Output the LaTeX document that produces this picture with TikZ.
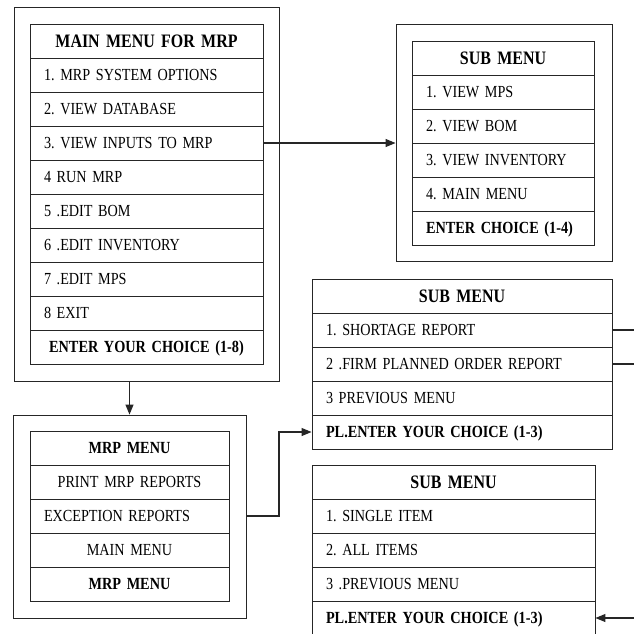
\documentclass[tikz,border=0pt]{standalone}
\usepackage{fontspec}
\setmainfont{Liberation Serif}[FakeStretch=0.84]
\usetikzlibrary{arrows.meta}
\newcommand{\rowfont}{\fontsize{16.9}{18}\selectfont\frenchspacing\spaceskip=0.2em\relax}
\newcommand{\boldrowfont}{\fontsize{17}{18}\selectfont\bfseries\frenchspacing\spaceskip=0.2em\relax}
\newcommand{\hdrfont}{\fontsize{19}{20}\selectfont\bfseries\frenchspacing\spaceskip=0.2em\relax}
\begin{document}
\begin{tikzpicture}[x=1pt,y=-1pt,
 cell/.style={draw=black!85, line width=0.9pt, minimum height=34pt, inner xsep=14pt, inner ysep=0pt,
   text height=11.6pt, text depth=0pt, font=\rowfont},
 bcell/.style={cell, font=\boldrowfont},
 hcell/.style={cell, font=\hdrfont, align=center, text height=12.2pt},
 outerbox/.style={draw=black!85, line width=0.9pt, inner sep=0pt},
 conn/.style={line width=1.1pt, draw=black!85},
 tip/.style={-{Triangle[length=10pt,width=8pt]}},
 mainw/.style={text width=205pt},
 subaw/.style={text width=154pt},
 subbw/.style={text width=272pt},
 subcw/.style={text width=255pt},
 mrpw/.style={text width=171pt}
]
\useasboundingbox (0,0) rectangle (634,633);
\clip (0,0) rectangle (634,633);

% Main menu
\node[hcell, mainw] (m0) at (146.5,41) {\mbox{MAIN MENU FOR MRP}};
\node[cell, mainw, align=left] (m1) at (146.5,75) {\mbox{1. MRP SYSTEM OPTIONS}};
\node[cell, mainw, align=left] (m2) at (146.5,109) {\mbox{2. VIEW DATABASE}};
\node[cell, mainw, align=left] (m3) at (146.5,143) {\mbox{3. VIEW INPUTS TO MRP}};
\node[cell, mainw, align=left] (m4) at (146.5,177) {\mbox{4 RUN MRP}};
\node[cell, mainw, align=left] (m5) at (146.5,211) {\mbox{5 .EDIT BOM}};
\node[cell, mainw, align=left] (m6) at (146.5,245) {\mbox{6 .EDIT INVENTORY}};
\node[cell, mainw, align=left] (m7) at (146.5,279) {\mbox{7 .EDIT MPS}};
\node[cell, mainw, align=left] (m8) at (146.5,313) {\mbox{8 EXIT}};
\node[bcell, mainw, align=center] (m9) at (146.5,347) {\mbox{ENTER YOUR CHOICE (1-8)}};
\node[outerbox, minimum width=265pt, minimum height=374pt] (mainbox) at (146.5,194) {};

% Sub menu 1
\node[hcell, subaw] (s0) at (503,58) {\mbox{SUB MENU}};
\node[cell, subaw, align=left] (s1) at (503,92) {\mbox{1. VIEW MPS}};
\node[cell, subaw, align=left] (s2) at (503,126) {\mbox{2. VIEW BOM}};
\node[cell, subaw, align=left] (s3) at (503,160) {\mbox{3. VIEW INVENTORY}};
\node[cell, subaw, align=left] (s4) at (503,194) {\mbox{4. MAIN MENU}};
\node[bcell, subaw, align=left] (s5) at (503,228) {\mbox{ENTER CHOICE (1-4)}};
\node[outerbox, minimum width=216pt, minimum height=237pt] (s1box) at (504,142.5) {};

% Sub menu 2
\node[hcell, subbw] (t0) at (462,296) {\mbox{SUB MENU}};
\node[cell, subbw, align=left] (t1) at (462,330) {\mbox{1. SHORTAGE REPORT}};
\node[cell, subbw, align=left] (t2) at (462,364) {\mbox{2 .FIRM PLANNED ORDER REPORT}};
\node[cell, subbw, align=left] (t3) at (462,398) {\mbox{3 PREVIOUS MENU}};
\node[bcell, subbw, align=left] (t4) at (462,432) {\mbox{PL.ENTER YOUR CHOICE (1-3)}};

% Sub menu 3
\node[hcell, subcw] (u0) at (453.5,482) {\mbox{SUB MENU}};
\node[cell, subcw, align=left] (u1) at (453.5,516) {\mbox{1. SINGLE ITEM}};
\node[cell, subcw, align=left] (u2) at (453.5,550) {\mbox{2. ALL ITEMS}};
\node[cell, subcw, align=left] (u3) at (453.5,584) {\mbox{3 .PREVIOUS MENU}};
\node[bcell, subcw, align=left] (u4) at (453.5,618) {\mbox{PL.ENTER YOUR CHOICE (1-3)}};

% MRP menu
\node[bcell, mrpw, align=center] (r0) at (129.5,448) {\mbox{MRP MENU}};
\node[cell, mrpw, align=center] (r1) at (129.5,482) {\mbox{PRINT MRP REPORTS}};
\node[cell, mrpw, align=left] (r2) at (129.5,516) {\mbox{EXCEPTION REPORTS}};
\node[cell, mrpw, align=center] (r3) at (129.5,550) {\mbox{MAIN MENU}};
\node[bcell, mrpw, align=center] (r4) at (129.5,584) {\mbox{MRP MENU}};
\node[outerbox, minimum width=233pt, minimum height=203pt] (mrpbox) at (129.5,516.5) {};

% Connectors
\draw[conn,tip] (m3.east) -- (m3.east -| s1box.west);
\draw[conn,tip] (mainbox.south -| mrpbox.north) -- (mrpbox.north);
\coordinate (bend) at (279,516);
\draw[conn,tip] (r2.east -| mrpbox.east) -- (bend) |- (t4.west);
\coordinate (e1) at (640,330);
\draw[conn] (t1.east) -- (e1);
\coordinate (e2) at (644,364);
\draw[conn,tip] (t2.east) -- (e2);
\coordinate (e3) at (640,618);
\draw[conn,tip] (e3) -- (u4.east);
\end{tikzpicture}
\end{document}
